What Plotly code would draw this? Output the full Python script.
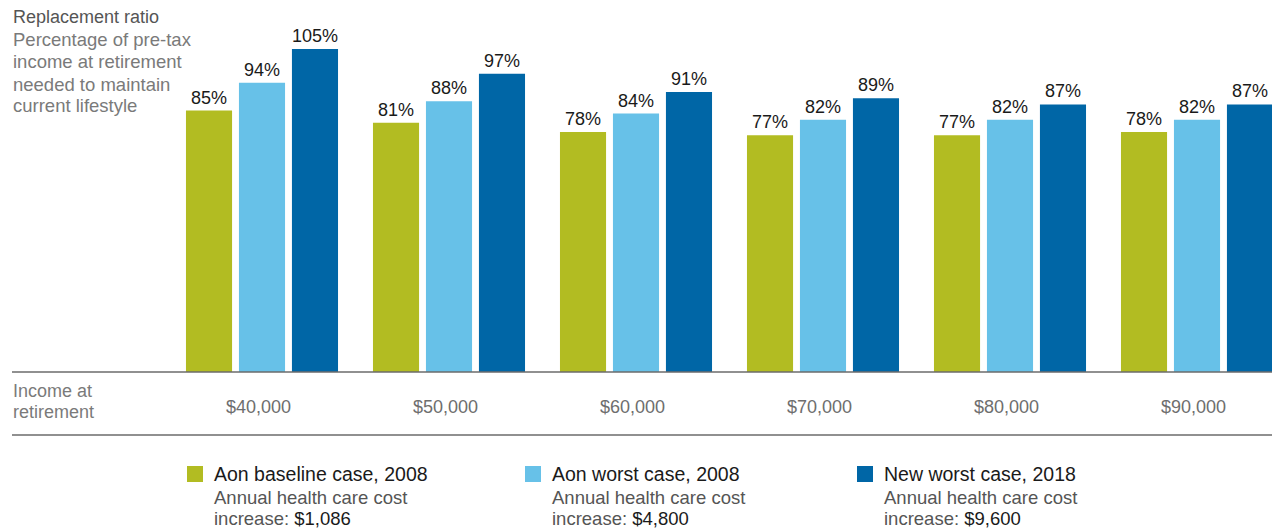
import plotly.graph_objects as go

categories = ["$40,000", "$50,000", "$60,000", "$70,000", "$80,000", "$90,000"]
baseline_2008 = [85, 81, 78, 77, 77, 78]
worst_2008 = [94, 88, 84, 82, 82, 82]
worst_2018 = [105, 97, 91, 89, 87, 87]
series_names = ["Aon baseline case, 2008", "Aon worst case, 2008", "New worst case, 2018"]
cost_labels = ["$1,086", "$4,800", "$9,600"]
colors = ["#b2bc22", "#67c1e8", "#0066a6"]

FONT = "Liberation Sans, Arial, sans-serif"
OFF = 8  # page body margin offset
W, H = 1280 - OFF, 531 - OFF
BASE = 372 - OFF
L, R, T = 12 - OFF, 0, 34 - OFF
B = H - BASE
plot_h = BASE - T
plot_w = W - L - R
px_per_cat = 187.0
first_center = 262 - OFF - L
x0 = -first_center / px_per_cat
x1 = x0 + plot_w / px_per_cat


def py(pix):
    return (BASE - (pix - OFF)) / plot_h


def px(pix):
    return (pix - OFF - L) / plot_w


fig = go.Figure()
for name, vals, col in zip(series_names, [baseline_2008, worst_2008, worst_2018], colors):
    fig.add_trace(go.Bar(
        x=list(range(len(categories))), y=vals, name=name,
        marker=dict(color=col, line=dict(width=0)),
        text=[f"{v}%" for v in vals], textposition="outside",
        textfont=dict(family=FONT, size=18, color="#1a1a1a"),
        cliponaxis=False, showlegend=False,
    ))

annotations = []
for i, c in enumerate(categories):
    annotations.append(dict(x=i - 0.02, y=py(407), xref="x", yref="paper", text=c, showarrow=False,
                            xanchor="center", yanchor="middle",
                            font=dict(family=FONT, size=18, color="#6e6e6e")))
annotations.append(dict(x=px(11), y=py(17), xref="paper", yref="paper", text="Replacement ratio",
                        showarrow=False, xanchor="left", yanchor="middle",
                        font=dict(family=FONT, size=18, color="#555555")))
for txt, ypix in [("Percentage of pre-tax", 40), ("income at retirement", 62),
                  ("needed to maintain", 84), ("current lifestyle", 106)]:
    annotations.append(dict(x=px(11), y=py(ypix), xref="paper", yref="paper", text=txt,
                            showarrow=False, xanchor="left", yanchor="middle",
                            font=dict(family=FONT, size=18.5, color="#7a7a7a")))
for txt, ypix in [("Income at", 391), ("retirement", 412)]:
    annotations.append(dict(x=px(11), y=py(ypix), xref="paper", yref="paper", text=txt,
                            showarrow=False, xanchor="left", yanchor="middle",
                            font=dict(family=FONT, size=18, color="#7a7a7a")))

shapes = []
for ypix in [372, 435]:
    shapes.append(dict(type="line", xref="paper", yref="paper", x0=px(12), x1=1,
                       y0=py(ypix), y1=py(ypix), line=dict(color="#6b6b6b", width=1.5)))

legend_x = [187, 525, 857]
for name, cost, col, lx in zip(series_names, cost_labels, colors, legend_x):
    shapes.append(dict(type="rect", xref="paper", yref="paper",
                       x0=px(lx), x1=px(lx + 16), y0=py(482), y1=py(466),
                       fillcolor=col, line=dict(width=0)))
    tx = px(lx + 25)
    annotations.append(dict(x=tx, y=py(474), xref="paper", yref="paper", text=name,
                            showarrow=False, xanchor="left", yanchor="middle",
                            font=dict(family=FONT, size=19.5, color="#1a1a1a")))
    annotations.append(dict(x=tx, y=py(498), xref="paper", yref="paper",
                            text="Annual health care cost",
                            showarrow=False, xanchor="left", yanchor="middle",
                            font=dict(family=FONT, size=18.5, color="#555555")))
    annotations.append(dict(x=tx, y=py(519), xref="paper", yref="paper",
                            text=f"increase: <span style='color:#1a1a1a'>{cost}</span>",
                            showarrow=False, xanchor="left", yanchor="middle",
                            font=dict(family=FONT, size=18.5, color="#555555")))

fig.update_layout(
    width=W, height=H,
    margin=dict(l=L, r=R, t=T, b=B),
    paper_bgcolor="white", plot_bgcolor="white",
    barmode="group", bargap=0.15, bargroupgap=0.13,
    xaxis=dict(range=[x0, x1], showticklabels=False, showgrid=False, zeroline=False,
               showline=False, ticks=""),
    yaxis=dict(range=[0, plot_h / 3.076], showticklabels=False, showgrid=False,
               zeroline=False, showline=False, ticks=""),
    annotations=annotations, shapes=shapes,
    showlegend=False,
)

fig.write_html("out.html")
